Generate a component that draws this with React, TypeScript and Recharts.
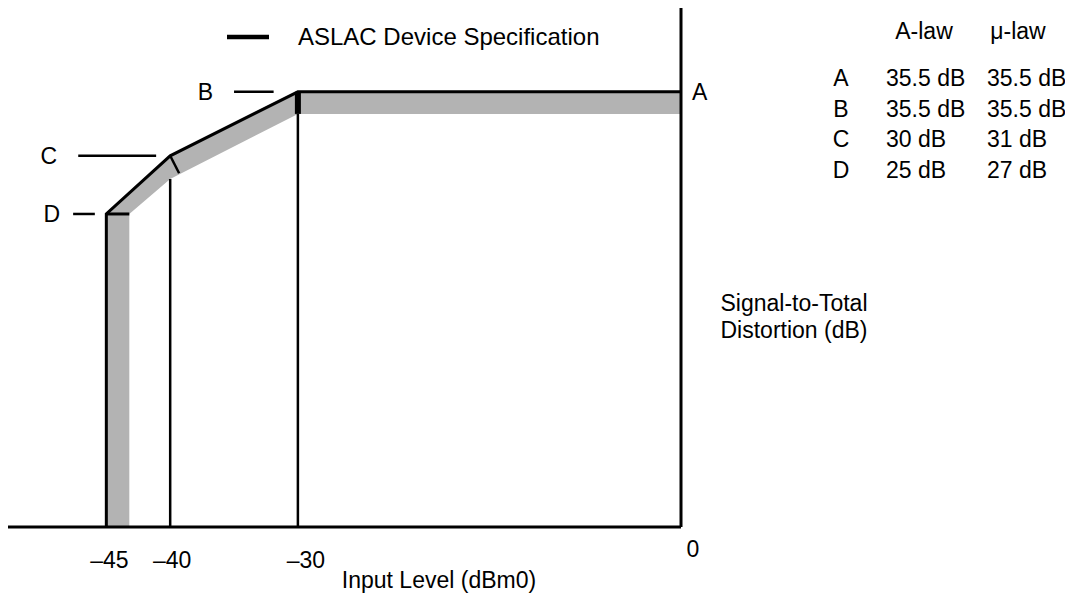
import React from "react"
import {
  ComposedChart,
  Area,
  Line,
  XAxis,
  YAxis,
  ReferenceLine,
  Legend,
} from "recharts"

const FONT = "'Liberation Sans', Arial, Helvetica, sans-serif"
const FS = 23

// axis extents as drawn (input level dBm0, distortion dB)
const xMin = -52.7
const xMax = 0
const yMin = -1.9
const yMax = 42.7
const xTicks = [-45, -40, -30, 0]

// spec break points, table order
const tableRows = ["A", "B", "C", "D"]
const rowLevels = [0, -30, -40, -45]
const aLawDb = [35.5, 35.5, 30, 25]
const muLawDb = [35.5, 35.5, 31, 27]

const specName = "ASLAC Device Specification"

// grey region under the spec line
const bandX = [-45, -43.2, -43.2, -40, -30, 0]
const bandLow = [yMin, yMin, 25, 28, 33.6, 33.6]
const bandHigh = [25, 26.8, 26.8, 30, 35.5, 35.5]

// short leader dashes next to the B, C, D letters
const dashNames = ["B", "C", "D"]
const dashFrom = [-35, -47.2, -47.6]
const dashTo = [-31.9, -41.1, -45.9]
const dashLevel = [35.5, 30, 25]

// vertical guides from the axis up to the band
const guideX = [-40, -30]
const guideTop = [28, 33.6]

// spec line: up the D edge, then D -> C -> B -> A
const specData = [{ x: rowLevels[3], y: yMin }].concat(
  rowLevels.map((x, i) => ({ x, y: aLawDb[i] })).reverse()
)
const bandData = bandX.map((x, i) => ({ x, band: [bandLow[i], bandHigh[i]] }))

const labelGap: Record<string, number> = { B: 21, C: 21, D: 13 }
const tickNudge: Record<number, [number, number]> = {
  [-45]: [3, 33],
  [-40]: [2, 33],
  [-30]: [8, 33],
  [0]: [12, 22],
}

function XTick(props: any) {
  const { x, y, payload } = props
  const v = payload.value
  const [dx, dy] = tickNudge[v] ?? [0, 33]
  return (
    <text x={x + dx} y={y + dy} textAnchor="middle" fontSize={FS} fontFamily={FONT} fill="#000">
      {v < 0 ? `–${-v}` : `${v}`}
    </text>
  )
}

function XTitle(props: any) {
  const vb = props.viewBox
  return (
    <text x={vb.x + vb.width / 2 + 94.5} y={vb.y + 61} textAnchor="middle" fontSize={FS} fontFamily={FONT} fill="#000">
      Input Level (dBm0)
    </text>
  )
}

function YTitle(props: any) {
  const vb = props.viewBox
  const cx = vb.x + 113
  return (
    <text textAnchor="middle" fontSize={FS} fontFamily={FONT} fill="#000">
      <tspan x={cx} y={vb.y + 303}>Signal-to-Total</tspan>
      <tspan x={cx} y={vb.y + 330}>Distortion (dB)</tspan>
    </text>
  )
}

function SpecLegend(props: any) {
  const item = (props.payload || []).find((p: any) => p.value === specName)
  if (!item) return null
  return (
    <svg width={400} height={30}>
      <line x1={0} y1={15} x2={42} y2={15} stroke="#000" strokeWidth={4.5} />
      <text x={71} y={23} fontSize={24} fontFamily={FONT} fill="#000">
        {item.value}
      </text>
    </svg>
  )
}

export default function App() {
  const lbl = (value: string, position: any, offset: number) => ({
    value,
    position,
    offset,
    fill: "#000",
    fontSize: FS,
    fontFamily: FONT,
  })

  return (
    <div style={{ position: "relative", width: 1057, height: 590, fontFamily: FONT }}>
      <style>{"html,body{overflow:hidden}"}</style>
      <ComposedChart width={1057} height={590} margin={{ top: 0, right: 0, bottom: 0, left: 0 }}>
        <XAxis
          dataKey="x"
          type="number"
          domain={[xMin, xMax]}
          ticks={xTicks}
          allowDataOverflow
          tickLine={false}
          tick={<XTick />}
          height={71}
          axisLine={{ stroke: "#000", strokeWidth: 3 }}
          label={XTitle}
        />
        <YAxis
          type="number"
          orientation="right"
          domain={[yMin, yMax]}
          allowDataOverflow
          tick={false}
          tickLine={false}
          width={384}
          axisLine={{ stroke: "#000", strokeWidth: 3 }}
          label={YTitle}
        />
        <Legend
          content={SpecLegend}
          layout="horizontal"
          verticalAlign="middle"
          align="center"
          wrapperStyle={{ left: 219, top: 14, width: 400, height: 30 }}
        />

        <Area
          data={bandData}
          dataKey="band"
          type="linear"
          stroke="none"
          fill="#b3b3b3"
          fillOpacity={1}
          legendType="none"
          isAnimationActive={false}
        />

        {guideX.map((x, i) => (
          <ReferenceLine
            key={"g" + x}
            segment={[{ x, y: yMin }, { x, y: guideTop[i] }]}
            stroke="#000"
            strokeWidth={2.5}
            ifOverflow="visible"
          />
        ))}

        <Line
          data={specData}
          dataKey="y"
          name={specName}
          type="linear"
          stroke="#000"
          strokeWidth={3}
          strokeLinejoin="miter"
          dot={false}
          activeDot={false}
          isAnimationActive={false}
        />

        {/* markers across the band at D, C and B */}
        <ReferenceLine segment={[{ x: -45, y: 25 }, { x: -43.2, y: 25 }]} stroke="#000" strokeWidth={3} ifOverflow="visible" />
        <ReferenceLine segment={[{ x: -40, y: 30 }, { x: -39.3, y: 28.5 }]} stroke="#000" strokeWidth={2.5} ifOverflow="visible" />
        <ReferenceLine segment={[{ x: -30, y: 35.5 }, { x: -30, y: 33.6 }]} stroke="#000" strokeWidth={6} ifOverflow="visible" />

        {dashNames.map((n, i) => (
          <ReferenceLine
            key={"d" + n}
            segment={[{ x: dashFrom[i], y: dashLevel[i] }, { x: dashTo[i], y: dashLevel[i] }]}
            stroke="#000"
            strokeWidth={2.5}
            ifOverflow="visible"
            label={lbl(n, "left", labelGap[n])}
          />
        ))}
        <ReferenceLine y={aLawDb[0]} stroke="none" label={lbl("A", "right", 11)} />
      </ComposedChart>

      <svg
        width={1057}
        height={590}
        style={{ position: "absolute", left: 0, top: 0, pointerEvents: "none" }}
        fontFamily={FONT}
        fontSize={FS}
        fill="#000"
      >
        <text x={916} y={31} textAnchor="middle">A-law</text>
        <text x={1010} y={31} textAnchor="middle">μ-law</text>
        {tableRows.map((r, i) => (
          <g key={r}>
            <text x={833} y={78 + i * 30.7} textAnchor="middle">{r}</text>
            <text x={878} y={78 + i * 30.7}>{`${aLawDb[i]} dB`}</text>
            <text x={979} y={78 + i * 30.7}>{`${muLawDb[i]} dB`}</text>
          </g>
        ))}
      </svg>
    </div>
  )
}
